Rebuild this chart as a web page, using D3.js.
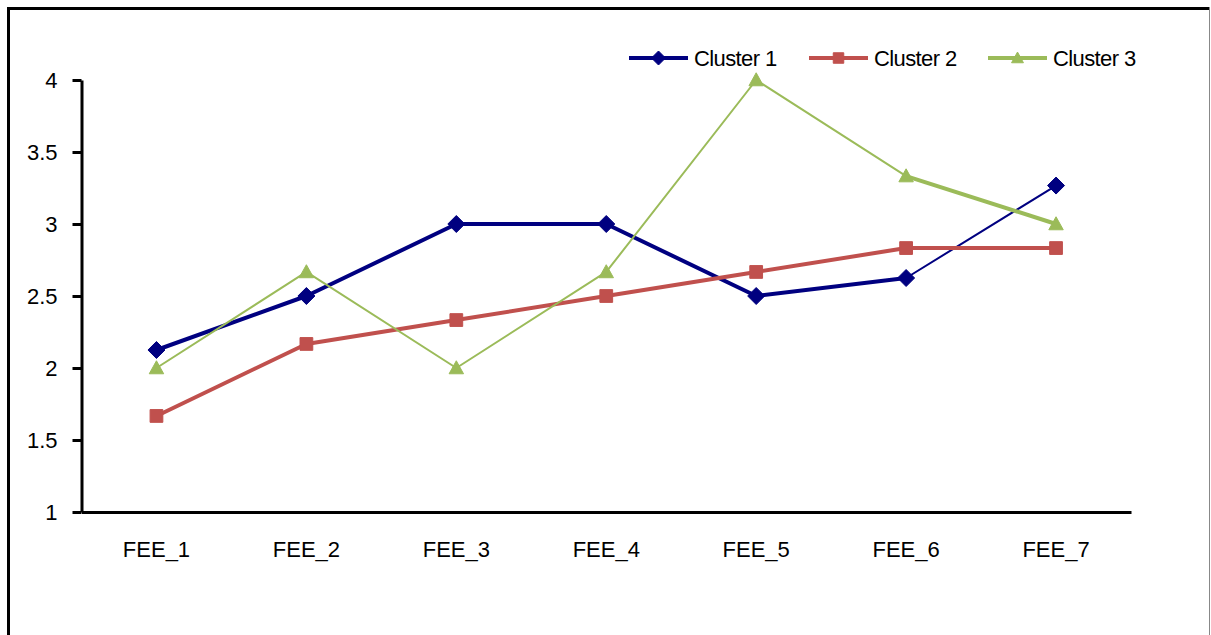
<!DOCTYPE html>
<html>
<head>
<meta charset="utf-8">
<script src="https://cdn.jsdelivr.net/npm/d3@7/dist/d3.min.js"></script>
<style>
  html, body { margin: 0; padding: 0; background: #fff; }
  svg { display: block; font-family: "Liberation Sans", Arial, sans-serif; }
</style>
</head>
<body>
<svg id="chart" width="1211" height="635"></svg>
<script>
// Categories and cluster means
const categories = ["FEE_1", "FEE_2", "FEE_3", "FEE_4", "FEE_5", "FEE_6", "FEE_7"];
const cluster1 = [2.125, 2.5, 3.0, 3.0, 2.5, 2.625, 3.267];
const cluster2 = [1.667, 2.167, 2.333, 2.5, 2.667, 2.833, 2.833];
const cluster3 = [2.0, 2.667, 2.0, 2.667, 4.0, 3.333, 3.0];
const seriesNames = ["Cluster 1", "Cluster 2", "Cluster 3"];
const yTicks = [1, 1.5, 2, 2.5, 3, 3.5, 4];

// Per-series drawing style (segment widths indexed by starting point)
const styles = [
  { color: "#000080", marker: "diamond",  widths: [4, 4, 4, 4, 4, 2] },
  { color: "#C0504D", marker: "square",   widths: [4, 4, 4, 4, 4, 4] },
  { color: "#9BBB59", marker: "triangle", widths: [2, 2, 2, 2, 2, 4] }
];
const seriesValues = [cluster1, cluster2, cluster3];

const svg = d3.select("#chart");

// Outer frame
svg.append("line").attr("x1", 7).attr("x2", 1209).attr("y1", 8.5).attr("y2", 8.5)
  .attr("stroke", "#000").attr("stroke-width", 3);
svg.append("line").attr("x1", 8.5).attr("x2", 8.5).attr("y1", 7).attr("y2", 640)
  .attr("stroke", "#000").attr("stroke-width", 3);
svg.append("line").attr("x1", 1209.5).attr("x2", 1209.5).attr("y1", 7).attr("y2", 640)
  .attr("stroke", "#888").attr("stroke-width", 1);

const x = d3.scaleBand().domain(categories).range([81.5, 1131]).padding(0);
const y = d3.scaleLinear().domain([1, 4]).range([512, 80]);
const cx = d => x(d) + x.bandwidth() / 2;

// Y axis
const yAxis = svg.append("g").attr("transform", "translate(81.5,0)")
  .call(d3.axisLeft(y).tickValues(yTicks).tickSize(9).tickSizeOuter(0).tickPadding(15)
    .tickFormat(d3.format("")));
yAxis.select(".domain").attr("stroke", "#000").attr("stroke-width", 3);
yAxis.selectAll(".tick line").attr("stroke", "#000").attr("stroke-width", 3);
yAxis.selectAll(".tick text").attr("font-size", 22).attr("fill", "#000")
  .attr("font-family", "Liberation Sans, Arial, sans-serif");

// X axis
const xAxis = svg.append("g").attr("transform", "translate(0,512)")
  .call(d3.axisBottom(x).tickSize(0).tickSizeOuter(0).tickPadding(29));
xAxis.select(".domain").attr("stroke", "#000").attr("stroke-width", 3);
xAxis.selectAll(".tick text").attr("font-size", 22).attr("fill", "#000")
  .attr("font-family", "Liberation Sans, Arial, sans-serif");

// Marker shapes
function markerPath(kind, size) {
  if (kind === "diamond") {
    const r = size;
    return `M0,${-r}L${r},0L0,${r}L${-r},0Z`;
  }
  if (kind === "square") {
    const h = size * 0.75;
    return `M${-h},${-h}H${h}V${h}H${-h}Z`;
  }
  const h = size * 0.85;
  return `M0,${-h}L${h},${h * 0.8}L${-h},${h * 0.8}Z`;
}

// Series lines and markers
seriesValues.forEach((vals, si) => {
  const st = styles[si];
  const g = svg.append("g");
  const pts = categories.map((c, i) => [cx(c), y(vals[i])]);
  for (let i = 0; i < pts.length - 1; i++) {
    g.append("line")
      .attr("x1", pts[i][0]).attr("y1", pts[i][1])
      .attr("x2", pts[i + 1][0]).attr("y2", pts[i + 1][1])
      .attr("stroke", st.color).attr("stroke-width", st.widths[i])
      .attr("stroke-linecap", "round");
  }
  g.selectAll("path.m").data(pts).join("path").attr("class", "m")
    .attr("transform", d => `translate(${d[0]},${d[1]})`)
    .attr("d", markerPath(st.marker, 8.5))
    .attr("fill", st.color).attr("stroke", st.color).attr("stroke-width", 1)
    .attr("stroke-linejoin", "round");
});

// Legend
const legendX = [629, 809, 988];
const legend = svg.append("g");
seriesNames.forEach((name, i) => {
  const st = styles[i];
  const lx = legendX[i];
  const ly = 58;
  legend.append("line").attr("x1", lx).attr("x2", lx + 59).attr("y1", ly).attr("y2", ly)
    .attr("stroke", st.color).attr("stroke-width", 4);
  legend.append("path").attr("transform", `translate(${lx + 29.5},${ly})`)
    .attr("d", markerPath(st.marker, 7))
    .attr("fill", st.color).attr("stroke", st.color).attr("stroke-width", 1);
  legend.append("text").attr("x", lx + 65).attr("y", ly).attr("dy", "0.35em")
    .attr("font-size", 22).attr("letter-spacing", -0.6).attr("fill", "#000").text(name);
});
</script>
</body>
</html>
